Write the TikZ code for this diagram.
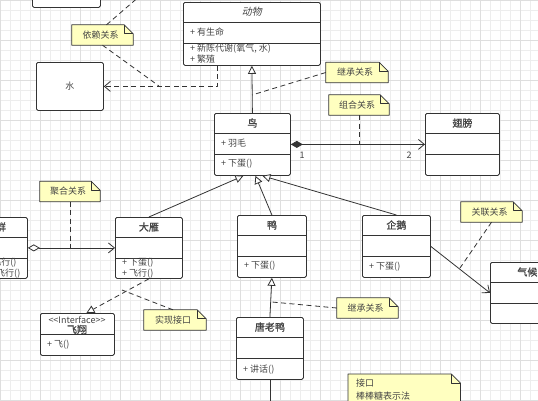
\documentclass[tikz,border=0pt]{standalone}
\usepackage{fontspec}
\setmainfont{Noto Sans CJK SC}[AutoFakeSlant=0.2,AutoFakeBold=1.2]
\usetikzlibrary{arrows.meta}
\definecolor{notefill}{HTML}{FFFFC0}
\definecolor{lineclr}{HTML}{333333}
\definecolor{txtclr}{HTML}{444444}
\tikzset{
  gridminor/.style={draw=black!7,line width=0.4pt},
  gridmajor/.style={draw=black!13,line width=0.4pt},
  classbox/.style={draw=lineclr,fill=white,line width=0.8pt,rounded corners=1.5pt,inner sep=0pt,anchor=north west},
  sectline/.style={draw=lineclr,line width=0.8pt},
  classtitle/.style={font=\bfseries,text=txtclr,inner sep=0pt},
  member/.style={anchor=west,text=txtclr,inner sep=0pt},
  noteshape/.style={inner sep=0pt,minimum height=20},
  noteline/.style={draw=lineclr,fill=notefill,line width=0.8pt},
  notetext/.style={text=txtclr,inner sep=0pt},
  link/.style={draw=lineclr,line width=0.8pt},
  dashlink/.style={link,dash pattern=on 5pt off 3.5pt},
  openhead/.style={-{Straight Barb[length=6pt,width=10pt]}},
  inherit/.style={link,-{Triangle[open,length=8pt,width=8pt,fill=white]}},
}
\begin{document}
\begin{tikzpicture}[x=1pt,y=-1pt,font=\fontsize{9}{10}\selectfont,line join=round]
\useasboundingbox (0,0) rectangle (538,400);
\clip (0,0) rectangle (538,400);
\fill[white] (0,0) rectangle (538,400);
% grid
\foreach \i in {0,10,...,530} \draw[gridminor] (\i,0) -- (\i,400);
\foreach \i in {0,10,...,400} \draw[gridminor] (0,\i) -- (538,\i);
\foreach \i in {0,40,...,520} \draw[gridmajor] (\i,0) -- (\i,400);
\foreach \i in {0,40,...,400} \draw[gridmajor] (0,\i) -- (538,\i);

% classes
\node[classbox,minimum width=68,minimum height=30] (topbox) at (32,-23) {};
\node[classbox,minimum width=67,minimum height=48] (shui) at (36,62) {};
\node[notetext] (shui-t) at (shui) {水};
\foreach \n/\x/\y/\w/\h/\t in {
  dongwu/183/2/137/63/{\mdseries\itshape 动物},
  niao/214/113/76/62/鸟,
  chibang/425/113/74/62/翅膀,
  yanqun/-36/217/63/61/雁群,
  dayan/115/217/67/61/大雁,
  ya/237/215/69/62/鸭,
  qie/362/215/68/62/企鹅,
  qihou/490/262/74/61/气候,
  tanglaoya/236/317/67/62/唐老鸭}
{
  \node[classbox,minimum width=\w,minimum height=\h] (\n) at (\x,\y) {};
  \draw[sectline] ([yshift=-20]\n.north west) -- ([yshift=-20]\n.north east)
                  ([yshift=-41]\n.north west) -- ([yshift=-41]\n.north east);
  \node[classtitle] (\n-t) at ([yshift=-10]\n.north) {\t};
}
\node[classbox,minimum width=74,minimum height=42] (feixiang) at (40,313) {};
\draw[sectline] ([yshift=-21]feixiang.north west) -- ([yshift=-21]feixiang.north east);
\node[notetext] (feixiang-s) at (77,319.5) {{<}{<}Interface{>}{>}};
\node[classtitle] (feixiang-t) at (77,329.5) {飞翔};

% members
\node[member] (dongwu-a1) at (190,32) {+ 有生命};
\node[member] (dongwu-m1) at (190,49) {+ 新陈代谢(氧气, 水)};
\node[member] (dongwu-m2) at (190,59.5) {+ 繁殖};
\node[member] (niao-a1) at (221,143) {+ 羽毛};
\node[member] (niao-m1) at (221,164) {+ 下蛋()};
\node[member] (yanqun-m1) at (-29,263) {+ V形飞行()};
\node[member] (yanqun-m2) at (-29,273.5) {+ 一字飞行()};
\node[member] (dayan-m1) at (122,263) {+ 下蛋()};
\node[member] (dayan-m2) at (122,273.5) {+ 飞行()};
\node[member] (ya-m1) at (244,266) {+ 下蛋()};
\node[member] (qie-m1) at (369,267) {+ 下蛋()};
\node[member] (tanglaoya-m1) at (243,370) {+ 讲话()};
\node[member] (feixiang-m1) at (47,345) {+ 飞()};

% notes
\foreach \n/\x/\y/\w/\t in {
  yilai/102.5/35/61/依赖关系,
  jicheng/357/72.5/62/继承关系,
  zuhe/359/105/60/组合关系,
  juhe/70/191.5/60/聚合关系,
  guanlian/491.5/212/61/关联关系,
  shixian/175/320/62/实现接口,
  jichengb/367.5/308/61/继承关系}
{
  \path node[noteshape,minimum width=\w] (\n) at (\x,\y) {};
  \draw[noteline] (\n.north west) -- ([xshift=-9]\n.north east) -- ([yshift=-9]\n.north east)
    -- (\n.south east) -- (\n.south west) -- cycle;
  \draw[link] ([xshift=-9]\n.north east) |- ([yshift=-9]\n.north east);
  \node[notetext] (\n-t) at ([xshift=-2]\n.center) {\t};
}
\path node[noteshape,minimum width=112,minimum height=50,anchor=north west] (lollipop) at (348,374) {};
\draw[noteline] (lollipop.north west) -- ([xshift=-9]lollipop.north east) -- ([yshift=-9]lollipop.north east)
  -- (lollipop.south east) -- (lollipop.south west) -- cycle;
\draw[link] ([xshift=-9]lollipop.north east) |- ([yshift=-9]lollipop.north east);
\node[notetext,anchor=north west,align=left] (lollipop-t) at (356,379) {接口\\[2.5pt]棒棒糖表示法};

% relations
\draw[dashlink,openhead] ([xshift=-34.5]dongwu.south) |- (shui.east);
\draw[inherit] (niao.north) -- (dongwu.south);
\draw[link,{Diamond[length=12pt,width=7pt]}-{Straight Barb[length=6pt,width=10pt]}] (niao.east) -- (chibang.west);
\node[notetext] (one) at (302,155) {1};
\node[notetext] (two) at (409,155) {2};
\draw[inherit] (dayan.north) -- ([xshift=-9]niao.south);
\draw[inherit] (ya.north) -- ([xshift=3]niao.south);
\draw[inherit] (qie.north) -- ([xshift=10]niao.south);
\draw[link,{Diamond[open,length=12pt,width=7pt,fill=white]}-{Straight Barb[length=6pt,width=10pt]}] (yanqun.east) -- (dayan.west);
\draw[link,openhead] (qie.east) -- (qihou.west);
\draw[dashlink,-{Triangle[open,length=8pt,width=8pt,fill=white]}] (dayan.south) -- ([xshift=9]feixiang.north);
\draw[inherit] (tanglaoya.north) -- (ya.south);
\coordinate (below) at (tanglaoya.south |- 0,410);
\draw[link] (tanglaoya.south) -- (below);

% note connectors
\coordinate (yilai-up) at (141,-5);
\coordinate (yilai-dep) at (159,86);
\coordinate (jicheng-pt) at (252,95);
\coordinate (guanlian-pt) at (460,268);
\coordinate (shixian-pt) at (122,290);
\coordinate (jichengb-pt) at (272,302);
\draw[dashlink] ([xshift=4]yilai.north) -- (yilai-up);
\draw[dashlink] (yilai.south) -- (yilai-dep);
\draw[dashlink] (jicheng.west) -- (jicheng-pt);
\draw[dashlink] (zuhe.south) -- (zuhe.south |- niao.east);
\draw[dashlink] (juhe.south) -- (juhe.south |- dayan.west);
\draw[dashlink] (guanlian.south) -- (guanlian-pt);
\draw[dashlink] ([xshift=-2]shixian.north) -- (shixian-pt);
\draw[dashlink] (jichengb.west) -- (jichengb-pt);
\end{tikzpicture}
\end{document}
